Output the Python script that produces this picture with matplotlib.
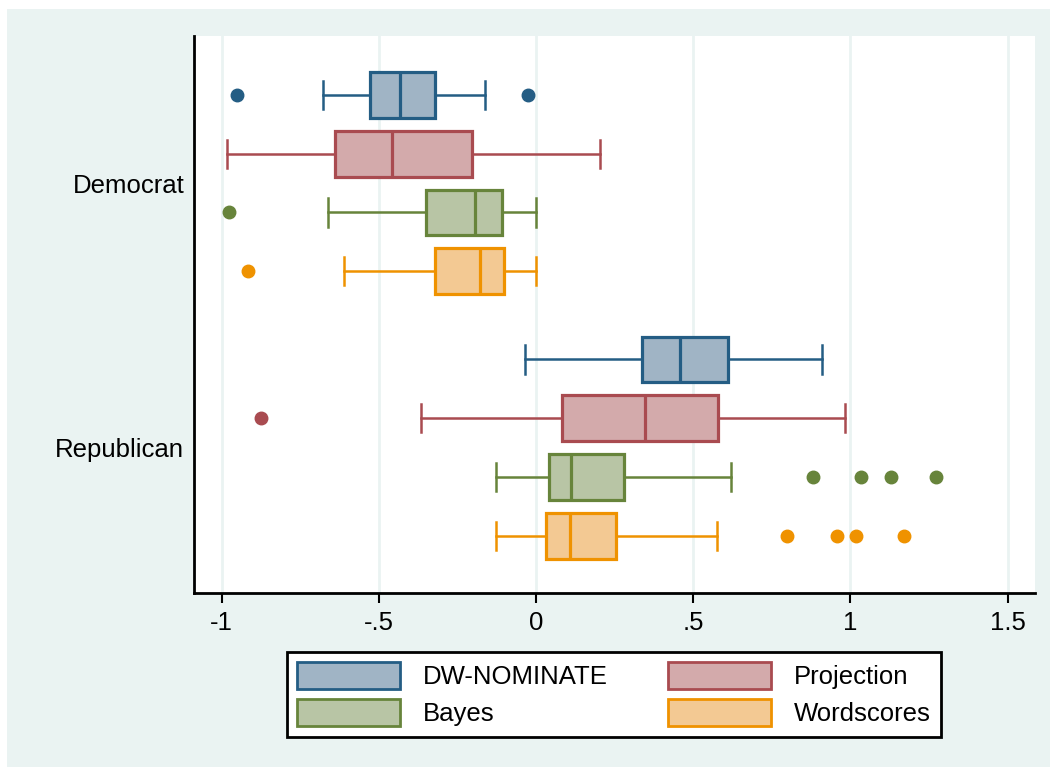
import matplotlib
matplotlib.use('Agg')
import matplotlib.pyplot as plt
from matplotlib.patches import Patch, Rectangle

plt.rcParams['font.family'] = ['Liberation Sans', 'DejaVu Sans']

parties = ['Democrat', 'Republican']
methods = ['DW-NOMINATE', 'Projection', 'Bayes', 'Wordscores']

# (whislo, q1, med, q3, whishi) per method
dem_stats = [
    [-0.677, -0.528, -0.433, -0.321, -0.161],
    [-0.984, -0.638, -0.458, -0.203, 0.204],
    [-0.662, -0.350, -0.195, -0.109, 0.000],
    [-0.611, -0.323, -0.178, -0.102, 0.000],
]
dem_fliers = [[-0.950, -0.025], [], [-0.976], [-0.917]]

rep_stats = [
    [-0.034, 0.338, 0.458, 0.612, 0.908],
    [-0.366, 0.084, 0.348, 0.578, 0.984],
    [-0.127, 0.040, 0.110, 0.281, 0.619],
    [-0.127, 0.033, 0.109, 0.255, 0.577],
]
rep_fliers = [[], [-0.875], [0.882, 1.035, 1.128, 1.272], [0.797, 0.958, 1.018, 1.170]]

edge_colors = ['#245d84', '#a94b50', '#67843b', '#ef9200']
fill_colors = ['#a0b4c5', '#d3aaab', '#b8c5a5', '#f3c993']
bg = '#eaf3f2'

fig = plt.figure(figsize=(10.5, 7.67), dpi=100)
fig.patches.append(Rectangle((7 / 1050, 0), 1, 1 - 9 / 767, transform=fig.transFigure,
                             facecolor=bg, edgecolor='none', zorder=-10))
ax = fig.add_axes([194 / 1050, 1 - 593 / 767, (1035 - 194) / 1050, (593 - 36) / 767])

group_start = [0.0, 4.5]
for g, (stats, fliers) in enumerate([(dem_stats, dem_fliers), (rep_stats, rep_fliers)]):
    for i, (s, fl) in enumerate(zip(stats, fliers)):
        st = dict(whislo=s[0], q1=s[1], med=s[2], q3=s[3], whishi=s[4], fliers=fl)
        ec, fc = edge_colors[i], fill_colors[i]
        ax.bxp([st], positions=[group_start[g] + i], widths=0.78, orientation='horizontal',
               patch_artist=True, capwidths=0.48,
               boxprops=dict(facecolor=fc, edgecolor=ec, linewidth=2.3),
               medianprops=dict(color=ec, linewidth=2.3),
               whiskerprops=dict(color=ec, linewidth=1.8),
               capprops=dict(color=ec, linewidth=1.8),
               flierprops=dict(marker='o', markerfacecolor=ec, markeredgecolor=ec, markersize=9))

ax.set_xlim(-1.088, 1.587)
ax.set_ylim(8.47, -1.0)
ax.set_xticks([-1, -0.5, 0, 0.5, 1, 1.5])
ax.set_xticklabels(['-1', '-.5', '0', '.5', '1', '1.5'])
ax.set_yticks([1.5, 6.0])
ax.set_yticklabels(parties)
ax.tick_params(axis='x', length=7, width=1.5, pad=6, labelsize=18.5)
ax.tick_params(axis='y', length=0, pad=7, labelsize=18.5)
ax.grid(axis='x', color=bg, linewidth=2)
ax.set_axisbelow(True)
for side in ['top', 'right']:
    ax.spines[side].set_visible(False)
for side in ['left', 'bottom']:
    ax.spines[side].set_linewidth(2)

handles = [Patch(facecolor=fill_colors[i], edgecolor=edge_colors[i], linewidth=2, label=methods[i])
           for i in range(4)]
# order so that column 1 is DW-NOMINATE/Bayes and column 2 Projection/Wordscores
order = [0, 2, 1, 3]
leg = fig.legend([handles[k] for k in order], [methods[k] for k in order], ncol=2,
                 loc='upper left', mode='expand', borderaxespad=0,
                 bbox_to_anchor=(287 / 1050, 1 - 652 / 767, (941 - 287) / 1050, 0.0),
                 fontsize=18.5, handlelength=4.0, handleheight=1.2, handletextpad=0.9,
                 labelspacing=0.4, borderpad=0.4, fancybox=False, framealpha=1,
                 edgecolor='black')
leg.get_frame().set_linewidth(2)

fig.savefig('out.png', dpi=100)
